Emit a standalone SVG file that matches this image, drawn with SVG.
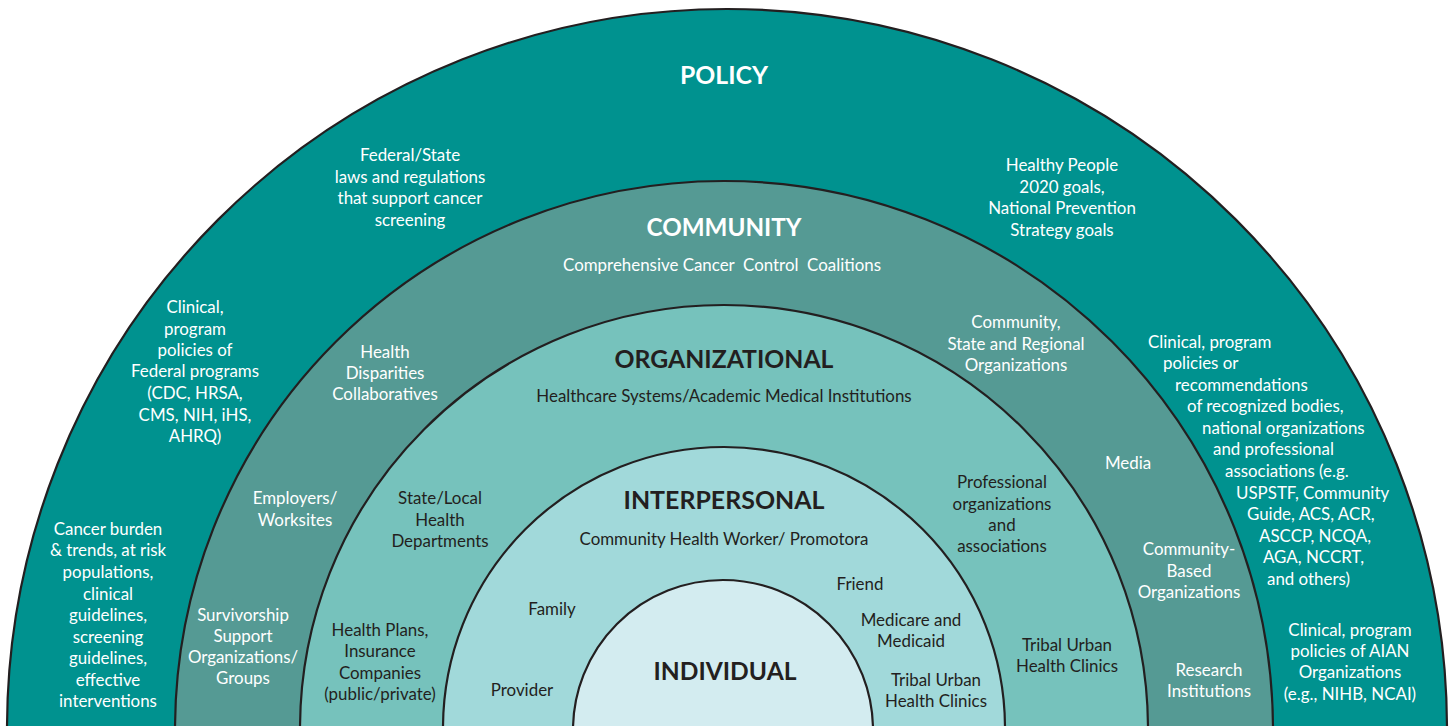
<svg xmlns="http://www.w3.org/2000/svg" width="1453" height="726" viewBox="0 0 1453 726">
<style>
.ring{stroke:#231F20;stroke-width:2.2}
.w{fill:#FFFFFF;font-family:Lato,"Open Sans","Liberation Sans",sans-serif;font-size:16.9px;text-anchor:middle}
.d{fill:#231F20;font-family:Lato,"Open Sans","Liberation Sans",sans-serif;font-size:16.9px;text-anchor:middle}
.s{text-anchor:start}
.hw{fill:#FFFFFF;font-family:Lato,"Open Sans","Liberation Sans",sans-serif;font-weight:bold;font-size:25px;text-anchor:middle}
.hd{fill:#231F20;font-family:Lato,"Open Sans","Liberation Sans",sans-serif;font-weight:bold;font-size:25px;text-anchor:middle}
</style>
<rect width="1453" height="726" fill="#FFFFFF"/>
<g id="policy">
<circle class="ring" cx="727" cy="729" r="720" fill="#00928F"/>
<text class="hw" x="724" y="84" textLength="88" lengthAdjust="spacingAndGlyphs">POLICY</text>
<text class="w" x="410"><tspan x="410" y="161">Federal/State</tspan><tspan x="410" y="183">laws and regulations</tspan><tspan x="410" y="204">that support cancer</tspan><tspan x="410" y="226">screening</tspan></text>
<text class="w" x="1062"><tspan x="1062" y="171">Healthy People</tspan><tspan x="1062" y="193">2020 goals,</tspan><tspan x="1062" y="214">National Prevention</tspan><tspan x="1062" y="236">Strategy goals</tspan></text>
<text class="w" x="195"><tspan x="195" y="313">Clinical,</tspan><tspan x="195" y="335">program</tspan><tspan x="195" y="356">policies of</tspan><tspan x="195" y="377">Federal programs</tspan><tspan x="195" y="399">(CDC, HRSA,</tspan><tspan x="195" y="421">CMS, NIH, iHS,</tspan><tspan x="195" y="442">AHRQ)</tspan></text>
<text class="w" x="108"><tspan x="108" y="535">Cancer burden</tspan><tspan x="108" y="556">&amp; trends, at risk</tspan><tspan x="108" y="578">populations,</tspan><tspan x="108" y="600">clinical</tspan><tspan x="108" y="621">guidelines,</tspan><tspan x="108" y="643">screening</tspan><tspan x="108" y="664">guidelines,</tspan><tspan x="108" y="686">effective</tspan><tspan x="108" y="707">interventions</tspan></text>
<text class="w s"><tspan x="1148" y="348">Clinical, program</tspan><tspan x="1163" y="369">policies or</tspan><tspan x="1175" y="391">recommendations</tspan><tspan x="1187" y="412">of recognized bodies,</tspan><tspan x="1202" y="434">national organizations</tspan><tspan x="1213" y="455">and professional</tspan><tspan x="1225" y="477">associations (e.g.</tspan><tspan x="1236" y="499">USPSTF, Community</tspan><tspan x="1247" y="520">Guide, ACS, ACR,</tspan><tspan x="1259" y="542">ASCCP, NCQA,</tspan><tspan x="1263" y="563">AGA, NCCRT,</tspan><tspan x="1267" y="585">and others)</tspan></text>
<text class="w" x="1350"><tspan x="1350" y="636">Clinical, program</tspan><tspan x="1350" y="657">policies of AIAN</tspan><tspan x="1350" y="678">Organizations</tspan><tspan x="1350" y="700">(e.g., NIHB, NCAI)</tspan></text>
</g>
<g id="community">
<circle class="ring" cx="724" cy="730" r="549" fill="#559A94"/>
<text class="hw" x="724" y="236" textLength="155" lengthAdjust="spacingAndGlyphs">COMMUNITY</text>
<text class="w" x="722" y="271" xml:space="preserve">Comprehensive Cancer  Control  Coalitions</text>
<text class="w" x="385"><tspan x="385" y="358">Health</tspan><tspan x="385" y="379">Disparities</tspan><tspan x="385" y="400">Collaboratives</tspan></text>
<text class="w" x="295"><tspan x="295" y="504">Employers/</tspan><tspan x="295" y="526">Worksites</tspan></text>
<text class="w" x="243"><tspan x="243" y="621">Survivorship</tspan><tspan x="243" y="642">Support</tspan><tspan x="243" y="663">Organizations/</tspan><tspan x="243" y="684">Groups</tspan></text>
<text class="w" x="1016"><tspan x="1016" y="328">Community,</tspan><tspan x="1016" y="350">State and Regional</tspan><tspan x="1016" y="371">Organizations</tspan></text>
<text class="w" x="1128" y="469">Media</text>
<text class="w" x="1189"><tspan x="1189" y="555">Community-</tspan><tspan x="1189" y="577">Based</tspan><tspan x="1189" y="598">Organizations</tspan></text>
<text class="w" x="1209"><tspan x="1209" y="676">Research</tspan><tspan x="1209" y="697">Institutions</tspan></text>
</g>
<g id="organizational">
<circle class="ring" cx="724" cy="729" r="424" fill="#76C2BC"/>
<text class="hd" x="724" y="368" textLength="219" lengthAdjust="spacingAndGlyphs">ORGANIZATIONAL</text>
<text class="d" x="724" y="402">Healthcare Systems/Academic Medical Institutions</text>
<text class="d" x="440"><tspan x="440" y="504">State/Local</tspan><tspan x="440" y="526">Health</tspan><tspan x="440" y="547">Departments</tspan></text>
<text class="d" x="380"><tspan x="380" y="636">Health Plans,</tspan><tspan x="380" y="657">Insurance</tspan><tspan x="380" y="679">Companies</tspan><tspan x="380" y="700">(public/private)</tspan></text>
<text class="d" x="1002"><tspan x="1002" y="488">Professional</tspan><tspan x="1002" y="510">organizations</tspan><tspan x="1002" y="531">and</tspan><tspan x="1002" y="552">associations</tspan></text>
<text class="d" x="1067"><tspan x="1067" y="651">Tribal Urban</tspan><tspan x="1067" y="672">Health Clinics</tspan></text>
</g>
<g id="interpersonal">
<circle class="ring" cx="724" cy="728" r="281" fill="#A1D9DA"/>
<text class="hd" x="724" y="509" textLength="201" lengthAdjust="spacingAndGlyphs">INTERPERSONAL</text>
<text class="d" x="724" y="545">Community Health Worker/ Promotora</text>
<text class="d" x="552" y="615">Family</text>
<text class="d" x="522" y="696">Provider</text>
<text class="d" x="860" y="590">Friend</text>
<text class="d" x="911"><tspan x="911" y="626">Medicare and</tspan><tspan x="911" y="647">Medicaid</tspan></text>
<text class="d" x="936"><tspan x="936" y="686">Tribal Urban</tspan><tspan x="936" y="707">Health Clinics</tspan></text>
</g>
<g id="individual">
<circle class="ring" cx="723" cy="730" r="150" fill="#D3ECF0"/>
<text class="hd" x="725" y="680" textLength="143" lengthAdjust="spacingAndGlyphs">INDIVIDUAL</text>
</g>
<g id="connectors"/>
</svg>
